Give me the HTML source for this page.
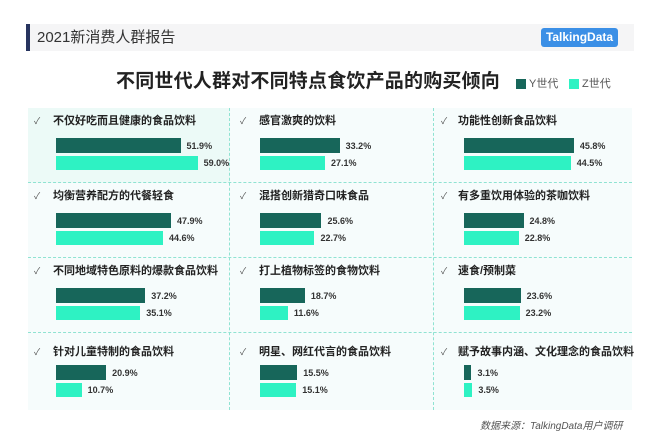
<!DOCTYPE html>
<html><head><meta charset="utf-8"><style>
*{margin:0;padding:0;box-sizing:border-box}
body{width:660px;height:446px;background:#fff;position:relative;overflow:hidden;font-family:"Liberation Sans","Noto Sans CJK SC",sans-serif}
.abs{position:absolute}
.hdr{left:26px;top:24px;width:608px;height:27px;background:#f5f5f6}
.hbar{left:26px;top:24px;width:4px;height:27px;background:#27345f}
.htxt{left:37px;top:27px;font-size:15px;color:#333;line-height:21px}
.logo{left:541px;top:28px;width:77px;height:19px;background:#3b8fe6;border-radius:3px;color:#fff;font-weight:bold;font-size:12px;text-align:center;line-height:19px}
.title{left:116px;top:70px;font-size:19px;font-weight:bold;color:#222;line-height:24px;letter-spacing:0.2px}
.leg{font-size:11px;color:#555;line-height:12px}
.sq{width:10px;height:10px}
.cell{background:#f6fcfc}
.ct{font-size:11px;font-weight:bold;color:#222;line-height:14px;white-space:nowrap}
.ck{font-size:9px;color:#555;line-height:14px}
.by{background:#17665a;height:15px}
.bz{background:#2ef2c3;height:14px}
.v{font-size:9px;color:#333;font-weight:bold;line-height:12px}
.vl{border-left:1px dashed #8fe3d2}
.hl{border-top:1px dashed #8fe3d2}
.src{left:480px;top:417px;font-size:10px;color:#555;font-style:italic}
</style></head><body>
<div class="abs hdr"></div><div class="abs hbar"></div>
<div class="abs htxt">2021新消费人群报告</div>
<div class="abs logo">TalkingData</div>
<div class="abs title">不同世代人群对不同特点食饮产品的购买倾向</div>
<div class="abs sq" style="left:516px;top:79px;background:#17665a"></div>
<div class="abs leg" style="left:529px;top:78px">Y世代</div>
<div class="abs sq" style="left:569px;top:79px;background:#2ef2c3"></div>
<div class="abs leg" style="left:582px;top:78px">Z世代</div>

<div class="abs cell" style="left:28px;top:108px;width:604px;height:302px"></div>
<div class="abs" style="left:28px;top:108px;width:202px;height:75px;background:#ecfaf7"></div>
<div class="abs vl" style="left:229px;top:108px;height:302px"></div>
<div class="abs vl" style="left:433px;top:108px;height:302px"></div>
<div class="abs hl" style="left:28px;top:182px;width:604px"></div>
<div class="abs hl" style="left:28px;top:257px;width:604px"></div>
<div class="abs hl" style="left:28px;top:332px;width:604px"></div>

<div id="g"></div>
<script>
var d=[
["不仅好吃而且健康的食品饮料",51.9,59.0],["感官激爽的饮料",33.2,27.1],["功能性创新食品饮料",45.8,44.5],
["均衡营养配方的代餐轻食",47.9,44.6],["混搭创新猎奇口味食品",25.6,22.7],["有多重饮用体验的茶咖饮料",24.8,22.8],
["不同地域特色原料的爆款食品饮料",37.2,35.1],["打上植物标签的食物饮料",18.7,11.6],["速食/预制菜",23.6,23.2],
["针对儿童特制的食品饮料",20.9,10.7],["明星、网红代言的食品饮料",15.5,15.1],["赋予故事内涵、文化理念的食品饮料",3.1,3.5]];
var ck=[34,240,441],tx=[53,259,458],bx=[56,260,464],h="";
for(var i=0;i<12;i++){var c=i%3,r=Math.floor(i/3),y=108+r*75,s=2.4;
var ty=y+6+(r==3?6:0),by=y+30+(r==3?2:0);
h+='<div class="abs ck" style="left:'+ck[c]+'px;top:'+ty+'px">✓</div>';
h+='<div class="abs ct" style="left:'+tx[c]+'px;top:'+ty+'px">'+d[i][0]+'</div>';
var wy=d[i][1]*s,wz=d[i][2]*s;
h+='<div class="abs by" style="left:'+bx[c]+'px;top:'+by+'px;width:'+wy+'px"></div>';
h+='<div class="abs bz" style="left:'+bx[c]+'px;top:'+(by+18)+'px;width:'+wz+'px"></div>';
h+='<div class="abs v" style="left:'+(bx[c]+wy+6)+'px;top:'+(by+2)+'px">'+d[i][1].toFixed(1)+'%</div>';
h+='<div class="abs v" style="left:'+(bx[c]+wz+6)+'px;top:'+(by+19)+'px">'+d[i][2].toFixed(1)+'%</div>';}
document.getElementById("g").innerHTML=h;
</script>
<div class="abs src">数据来源：TalkingData用户调研</div>
</body></html>
